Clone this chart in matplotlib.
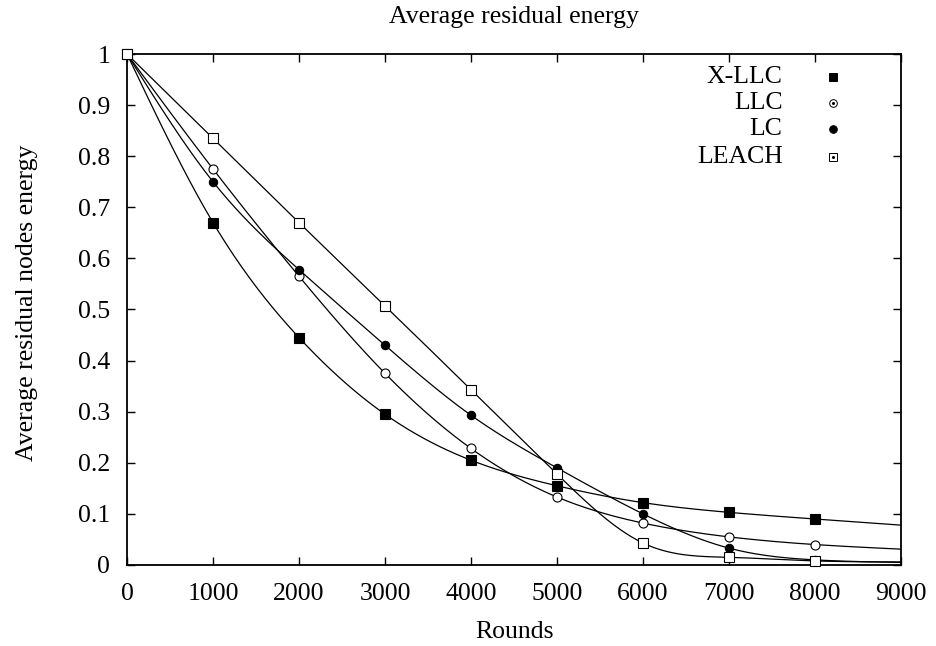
import matplotlib
matplotlib.use("Agg")
import matplotlib.pyplot as plt
import numpy as np

plt.rcParams['font.family'] = ['Liberation Serif', 'DejaVu Serif']

ROUNDS = [0, 1000, 2000, 3000, 4000, 5000, 6000, 7000, 8000, 9000]
XLLC = [1.0, 0.67, 0.445, 0.295, 0.205, 0.155, 0.122, 0.103, 0.09, 0.078]
LLC = [1.0, 0.775, 0.565, 0.375, 0.228, 0.133, 0.082, 0.055, 0.04, 0.031]
LC = [1.0, 0.75, 0.578, 0.43, 0.293, 0.19, 0.1, 0.033, 0.01, 0.005]
LEACH = [1.0, 0.835, 0.67, 0.507, 0.343, 0.178, 0.043, 0.015, 0.008, 0.006]

NAMES = ["X-LLC", "LLC", "LC", "LEACH"]
SERIES = [XLLC, LLC, LC, LEACH]
# marker, face colour
STYLES = [("s", "black"), ("o", "white"), ("o", "black"), ("s", "white")]
MSIZES = [7, 6.5, 6, 7]
LEG_MSIZES = [6, 5.5, 5.5, 6]
FS = 18.5


def natural_spline(x, y, n=400):
    # natural cubic spline, like gnuplot "smooth csplines"
    x = np.asarray(x, float)
    y = np.asarray(y, float)
    k = len(x)
    h = np.diff(x)
    A = np.zeros((k, k))
    b = np.zeros(k)
    A[0, 0] = 1
    A[-1, -1] = 1
    for i in range(1, k - 1):
        A[i, i - 1] = h[i - 1]
        A[i, i] = 2 * (h[i - 1] + h[i])
        A[i, i + 1] = h[i]
        b[i] = 6 * ((y[i + 1] - y[i]) / h[i] - (y[i] - y[i - 1]) / h[i - 1])
    M = np.linalg.solve(A, b)
    xs = np.linspace(x[0], x[-1], n)
    idx = np.clip(np.searchsorted(x, xs) - 1, 0, k - 2)
    x0, x1 = x[idx], x[idx + 1]
    hh = x1 - x0
    t0 = x1 - xs
    t1 = xs - x0
    ys = (M[idx] * t0 ** 3 / (6 * hh) + M[idx + 1] * t1 ** 3 / (6 * hh)
          + (y[idx] / hh - M[idx] * hh / 6) * t0
          + (y[idx + 1] / hh - M[idx + 1] * hh / 6) * t1)
    return xs, ys


fig = plt.figure(figsize=(9.36, 6.46), dpi=100)
ax = fig.add_axes([0.1357, 0.1254, 0.8269, 0.791])

for vals, (mk, fc), ms in zip(SERIES, STYLES, MSIZES):
    xs, ys = natural_spline(ROUNDS, vals)
    ax.plot(xs, ys, color="black", lw=0.9)
    ax.plot(ROUNDS[:-1], vals[:-1], ls="none", marker=mk, ms=ms,
            mfc=fc, mec="black", mew=0.8, clip_on=False, zorder=5)

# legend: right-aligned text with marker to the right
leg_y = [0.955, 0.904, 0.853, 0.798]
for name, (mk, fc), ms, ly in zip(NAMES, STYLES, LEG_MSIZES, leg_y):
    ax.text(0.847, ly, name, transform=ax.transAxes,
            ha="right", va="center", fontsize=FS)
    ax.plot([0.912], [ly], transform=ax.transAxes, marker=mk, ms=ms,
            mfc=fc, mec="black", mew=0.7, ls="none")
    if fc == "white":
        ax.plot([0.912], [ly], transform=ax.transAxes, marker="o", ms=1.2,
                color="black", ls="none")

ax.set_xlim(0, 9000)
ax.set_ylim(0, 1)
ax.set_xticks(np.arange(0, 9001, 1000))
ax.set_yticks(np.arange(0, 1.01, 0.1))
ax.set_yticklabels(["0"] + ["%.1f" % v for v in np.arange(0.1, 0.95, 0.1)] + ["1"])
ax.tick_params(direction="in", length=6, width=1, top=True, right=True,
               labelsize=FS)
ax.tick_params(axis="x", pad=13)
ax.tick_params(axis="y", pad=12)
for s in ax.spines.values():
    s.set_linewidth(1.3)

fig.text(0.550, 0.0217, "Rounds", ha="center", va="center", fontsize=FS)
fig.text(0.029, 0.531, "Average residual nodes energy", rotation=90,
         ha="center", va="center", fontsize=FS)
fig.text(0.549, 0.974, "Average residual energy", ha="center", va="center",
         fontsize=FS)

fig.savefig("out.png", dpi=100)
